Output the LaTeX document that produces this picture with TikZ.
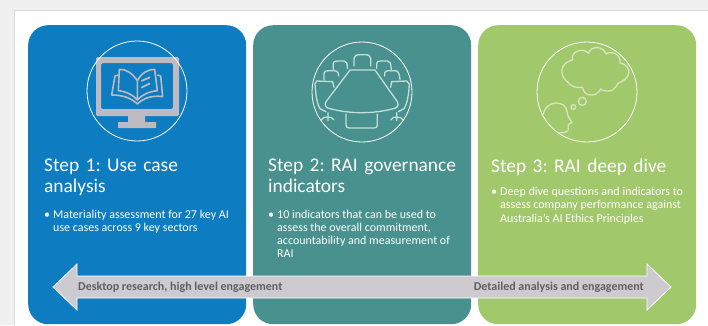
\documentclass[tikz,border=0pt]{standalone}
\usepackage{fontspec}
\setmainfont{Carlito}
\frenchspacing
\definecolor{cardblue}{HTML}{0D7CC1}
\definecolor{cardteal}{HTML}{48918E}
\definecolor{cardgreen}{HTML}{A2C86C}
\definecolor{arrowgrey}{HTML}{CDCAD0}
\definecolor{icongrey}{HTML}{BDBBC0}
\definecolor{labelgrey}{HTML}{5F6064}
\definecolor{linepale}{HTML}{C4DEDB}
\definecolor{linepaleg}{HTML}{D6E6BE}
\newcommand{\bul}{\llap{•\hspace{3pt}}}
\tikzset{
  cardbox/.style={minimum width=218pt,minimum height=299pt,rounded corners=20pt,inner sep=0pt,anchor=north west},
  headtext/.style={text=white,font=\fontsize{19.4}{21}\selectfont,align=left,anchor=north west,inner sep=0pt,text width=200pt},
  bullettext/.style={text=white,font=\fontsize{12}{13.3}\selectfont,align=left,anchor=north west,inner sep=0pt},
  ring/.style={draw=white,line width=0.8pt,circle,minimum size=100pt,inner sep=0pt},
  icona/.style={draw=linepale,line width=1.3pt,line join=round,line cap=round},
  iconb/.style={draw=linepaleg,line width=1.3pt,line join=round,line cap=round},
  arrowlabel/.style={text=labelgrey,font=\fontsize{12}{13}\bfseries\selectfont,inner sep=0pt}
}
\begin{document}
\begin{tikzpicture}[x=1pt,y=-1pt]
\useasboundingbox (0,0) rectangle (708,325);
\fill[gray!12] (0,0) rectangle (708,325);
\fill[white,draw=gray!30,line width=1pt] (14,10) rectangle (720,335);
\node[cardbox,fill=cardblue] (c1) at (28,25) {};
\node[cardbox,fill=cardteal] (c2) at (253,25) {};
\node[cardbox,fill=cardgreen] (c3) at (478,25) {};
% monitor
\fill[icongrey,rounded corners=1.5pt,even odd rule] (96,57) rectangle (179,116) (101,63) rectangle (173,109);
\fill[icongrey] (128,116) rectangle (145,122) (118,122) rectangle (156,128);
\begin{scope}[scale=1/3]
\draw[icongrey,line width=1.6pt,line join=round] (412,242) .. controls (395,218) and (380,208) .. (358,208) -- (355,272) .. controls (380,275) and (400,285) .. (412,300) .. controls (425,285) and (445,275) .. (472,272) -- (464,208) .. controls (445,208) and (425,218) .. (412,242) -- (412,300);
\draw[icongrey,line width=1.6pt,line join=round] (355,225) -- (345,228) -- (335,285) .. controls (370,285) and (395,295) .. (412,312) .. controls (430,295) and (455,285) .. (488,290) -- (482,228) -- (472,225);
\draw[icongrey,line width=1.8pt] (424,243) -- (450,232) (424,263) -- (450,250);
\end{scope}
\node[ring] (r1) at (137,91) {};
% table icon
\begin{scope}[shift={(260,10)},scale=1/3]
\path[icona] (270,180) -- (345,180) -- (412,275) .. controls (418,285) and (412,295) .. (400,296) .. controls (340,312) and (270,312) .. (210,296) .. controls (198,295) and (192,285) .. (198,275) -- cycle;
\path[icona] (258,312) -- (258,345) .. controls (258,352) and (262,354) .. (268,354) -- (342,354) .. controls (348,354) and (352,352) .. (352,345) -- (352,312);
\path[icona] (282,168) -- (282,145) .. controls (282,137) and (290,134) .. (300,134) -- (315,134) .. controls (325,134) and (332,137) .. (332,145) -- (332,168);
\path[icona] (220,178) -- (220,160) .. controls (220,155) and (225,153) .. (232,153) -- (252,153) .. controls (260,153) and (262,160) .. (262,175);
\path[icona] (192,210) -- (192,190) .. controls (192,184) and (198,182) .. (205,182) -- (225,182) .. controls (232,182) and (236,188) .. (236,198);
\path[icona] (222,232) -- (218,215) -- (170,213) -- (165,222) .. controls (168,260) and (172,285) .. (180,296) -- (198,305);
\path[icona] (350,175) -- (350,160) .. controls (350,155) and (355,153) .. (362,153) -- (382,153) .. controls (390,153) and (392,158) .. (394,178);
\path[icona] (374,198) -- (374,188) .. controls (374,184) and (380,182) .. (387,182) -- (405,182) .. controls (415,182) and (418,190) .. (420,208);
\path[icona] (392,232) -- (395,215) -- (440,213) -- (448,222) .. controls (446,260) and (440,285) .. (432,296) -- (415,305);
\path[icona] (204,308) -- (204,332) (184,330) .. controls (186,318) and (218,318) .. (222,330);
\path[icona] (410,308) -- (410,332) (392,330) .. controls (396,318) and (424,318) .. (430,330);
\end{scope}
\node[ring] (r2) at (362,92) {};
% thought icon
\begin{scope}[shift={(480,10)},scale=1/3]
\path[iconb] (278,150) .. controls (270,125) and (310,110) .. (325,130) .. controls (335,105) and (370,108) .. (378,132) .. controls (395,120) and (425,135) .. (420,160) .. controls (445,160) and (462,195) .. (425,215) .. controls (405,215) and (415,245) .. (380,243) .. controls (370,243) and (365,240) .. (362,237) .. controls (352,262) and (310,262) .. (308,232) .. controls (290,235) and (272,230) .. (262,215) .. controls (240,200) and (235,160) .. (278,150) -- cycle;
\path[iconb] (307,274) circle [radius=12];
\path[iconb] (280,291) circle [radius=7];
\path[iconb] (190,312) .. controls (195,285) and (225,270) .. (250,285) .. controls (262,295) and (262,310) .. (264,318) -- (276,338) -- (265,343) -- (265,358) .. controls (262,368) and (250,368) .. (240,368);
\end{scope}
\node[ring] (r3) at (587,92) {};
% headings
\node[headtext] (h1) at (44,159) {Step 1: Use case\\analysis};
\node[headtext] (h2) at (268,159) {Step 2: RAI governance\\indicators};
\node[headtext] (h3) at (491,159) {Step 3: RAI deep dive};
\node[bullettext] (b1) at (53,209.5) {\bul Materiality assessment for 27 key AI\\use cases across 9 key sectors};
\node[bullettext] (b2) at (277,209.5) {\bul 10 indicators that can be used to\\assess the overall commitment,\\accountability and measurement of\\RAI};
\node[bullettext] (b3) at (500,187) {\bul Deep dive questions and indicators to\\assess company performance against\\Australia’s AI Ethics Principles};
% arrow
\draw[draw=white,line width=0.8pt,fill=arrowgrey] (53,287) -- (77,264) -- (77,276) -- (647,276) -- (647,264) -- (671,287) -- (647,310) -- (647,298) -- (77,298) -- (77,310) -- cycle;
\node[arrowlabel,anchor=west] (al) at (78,287) {Desktop research, high level engagement};
\node[arrowlabel,anchor=east] (ar) at (644,287) {Detailed analysis and engagement};
\end{tikzpicture}
\end{document}
